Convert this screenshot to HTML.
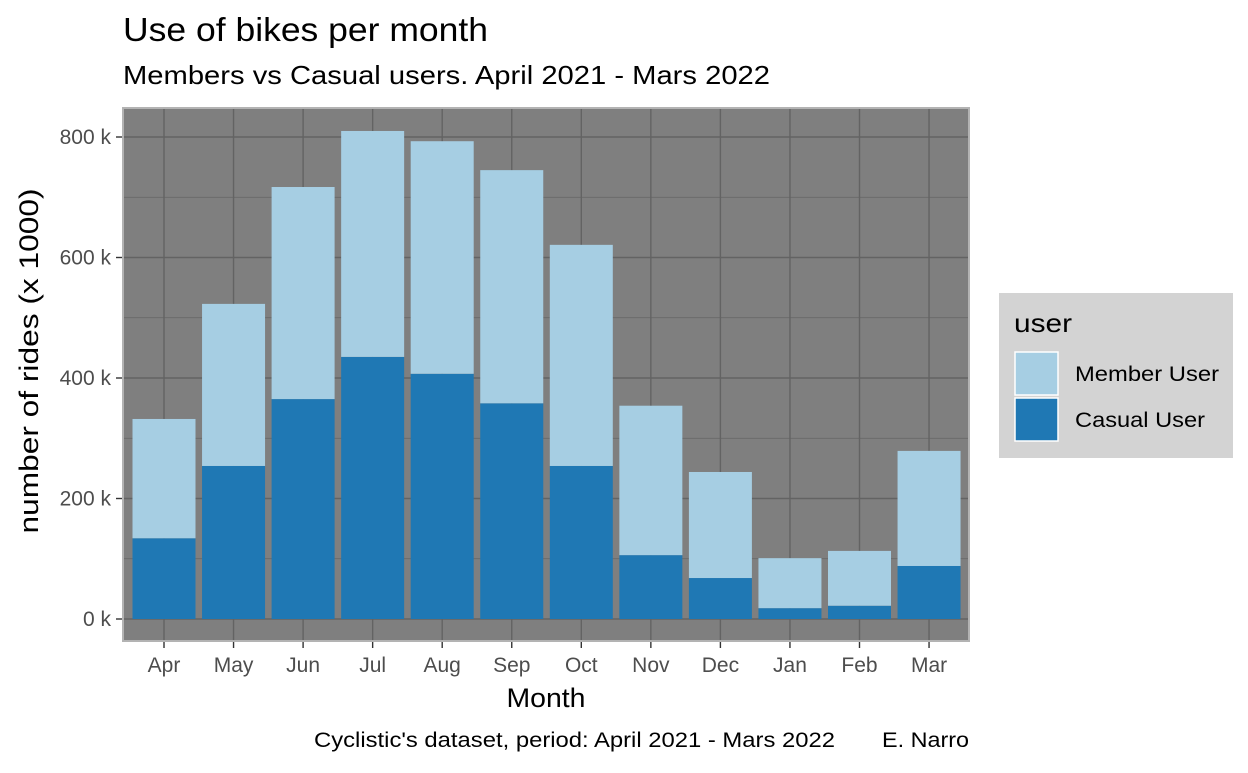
<!DOCTYPE html>
<html><head><meta charset="utf-8"><style>
body{margin:0;background:#fff;}
svg text{font-family:"Liberation Sans",sans-serif;}
</style></head><body>
<svg id="chart" width="1248" height="768" xmlns="http://www.w3.org/2000/svg">
<text x="123" y="41" font-size="33" textLength="365" lengthAdjust="spacingAndGlyphs" fill="#000">Use of bikes per month</text>
<text x="123" y="84" font-size="26" textLength="647" lengthAdjust="spacingAndGlyphs" fill="#000">Members vs Casual users. April 2021 - Mars 2022</text>
<rect x="123" y="108" width="846" height="533" fill="#7f7f7f" stroke="#b3b3b3" stroke-width="2"/>
<g id="grid"></g>
<g id="bars"></g>
<g id="axes"></g>
<text x="546" y="707" font-size="27" text-anchor="middle" textLength="79" lengthAdjust="spacingAndGlyphs">Month</text>
<text transform="translate(38,361) rotate(-90)" font-size="27" text-anchor="middle" textLength="345" lengthAdjust="spacingAndGlyphs">number of rides (x 1000)</text>
<text x="835" y="747" font-size="21" text-anchor="end" textLength="521" lengthAdjust="spacingAndGlyphs">Cyclistic's dataset, period: April 2021 - Mars 2022</text>
<text x="969" y="747" font-size="21" text-anchor="end" textLength="87" lengthAdjust="spacingAndGlyphs">E. Narro</text>
<g>
<rect x="999" y="293" width="234" height="165" fill="#d3d3d3"/>
<text x="1014" y="332" font-size="26" textLength="58" lengthAdjust="spacingAndGlyphs">user</text>
<rect x="1015" y="352" width="43" height="43" fill="#a6cee3" stroke="#fff" stroke-width="1.5"/>
<text x="1075" y="381" font-size="21" textLength="144" lengthAdjust="spacingAndGlyphs">Member User</text>
<rect x="1015" y="398" width="43" height="43" fill="#1f78b4" stroke="#fff" stroke-width="1.5"/>
<text x="1075" y="427" font-size="21" textLength="130" lengthAdjust="spacingAndGlyphs">Casual User</text>
</g>
</svg>
<script>
const months = ["Apr","May","Jun","Jul","Aug","Sep","Oct","Nov","Dec","Jan","Feb","Mar"];
const casual = [134,254,365,435,407,358,254,106,68,18,22,88];
const member = [198,269,352,375,386,387,367,248,176,83,91,191];
const yTicks = [0,200,400,600,800];
const yTickLabels = ["0 k","200 k","400 k","600 k","800 k"];
const NS="http://www.w3.org/2000/svg";
const y0=619, pxPerK=0.6025;
function y(v){return y0-v*pxPerK;}
function x(i){return 164+i*69.55;}
const bw=63;
function mk(t,a,p){const e=document.createElementNS(NS,t);for(const k in a)e.setAttribute(k,a[k]);p.appendChild(e);return e;}
const grid=document.getElementById('grid'),bars=document.getElementById('bars'),axes=document.getElementById('axes');
for(let v=-100;v<=848;v+=100){if(v<-36)continue;const major=v%200===0;
 const l=mk('line',{x1:124,x2:968,y1:y(v),y2:y(v),stroke:'#636363','stroke-width':major?1.4:0.7},grid);
 
 }
months.forEach((m,i)=>{const l=mk('line',{x1:x(i),x2:x(i),y1:109,y2:640,stroke:'#636363','stroke-width':1.4},grid);
 
 });
months.forEach((m,i)=>{
 const c=mk('rect',{x:x(i)-bw/2,y:y(casual[i]),width:bw,height:casual[i]*pxPerK,fill:'#1f78b4'},bars);
 
 
 const t=casual[i]+member[i];
 const r=mk('rect',{x:x(i)-bw/2,y:y(t),width:bw,height:member[i]*pxPerK,fill:'#a6cee3'},bars);
 
 
 const tk=mk('line',{x1:x(i),x2:x(i),y1:642,y2:648,stroke:'#333','stroke-width':1.4},axes);
 
 
 const lb=mk('text',{x:x(i),y:672,'font-size':21,'text-anchor':'middle',fill:'#4d4d4d'},axes);
 lb.textContent=m;
 
 
});
yTicks.forEach((v,i)=>{
 const tk=mk('line',{x1:116,x2:122,y1:y(v),y2:y(v),stroke:'#333','stroke-width':1.4},axes);
 
 
 const lb=mk('text',{x:111,y:y(v)+7,'font-size':21,'text-anchor':'end',fill:'#4d4d4d'},axes);
 lb.textContent=yTickLabels[i];
 
 
});
</script>
</body></html>
